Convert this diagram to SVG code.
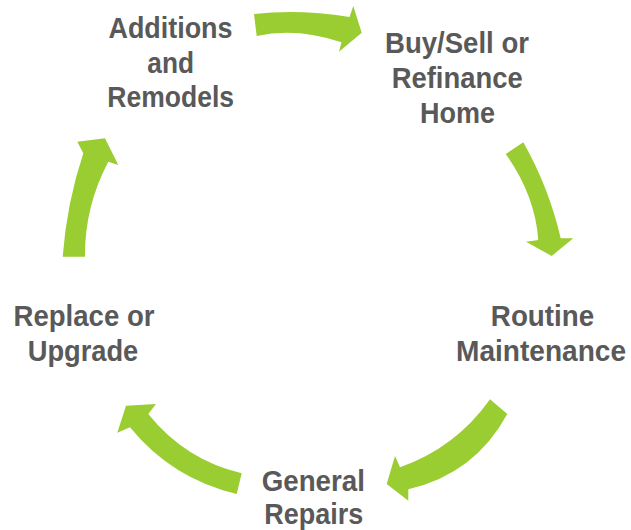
<svg xmlns="http://www.w3.org/2000/svg" width="631" height="530" viewBox="0 0 631 530">
  <style>
    .arrow { fill: #9ACD32; stroke: none; }
    .label { font-family: "Liberation Sans", Arial, sans-serif; font-weight: bold; font-size: 29px; fill: #595959; text-anchor: middle; }
  </style>
  <rect width="631" height="530" fill="#ffffff"/>
  <g id="connectors">
    <path class="arrow" d="M254,14 Q299.5,8.7 349.5,17 L353.3,6 L361.7,32.7 L339,51.7 L341.5,42.3 Q297,27 256.7,36 Z"/>
    <path class="arrow" d="M523.3,142.3 Q549,187.7 560.7,238.3 L573.3,238.3 L551.7,256 L526,241.7 L538.3,240 Q535,195 505.7,154 Z"/>
    <path class="arrow" d="M490,399.3 L507.3,414 Q474.8,473.9 408.3,489.3 L408.3,500.7 L386.7,484 L395,456 L400,467.3 Q455.8,447.7 490,399.3 Z"/>
    <path class="arrow" d="M241.7,473.3 L236.7,494 Q172,478.8 130,427.3 L117.3,432.7 L126,405.7 L156,404 L148.3,414 Q185,459.8 241.7,473.3 Z"/>
    <path class="arrow" d="M62.7,256.7 Q66.6,203.7 83.3,153.3 L77.3,141.7 L105,138.3 L118.3,165 L108.3,161.7 Q84.5,206.8 85,256.7 Z"/>
  </g>
  <g id="node-additions">
    <text class="label" x="170.5" y="37.7" textLength="124" lengthAdjust="spacingAndGlyphs">Additions</text>
    <text class="label" x="170.7" y="72.7" textLength="46.7" lengthAdjust="spacingAndGlyphs">and</text>
    <text class="label" x="170.7" y="106.7" textLength="126.7" lengthAdjust="spacingAndGlyphs">Remodels</text>
  </g>
  <g id="node-buysell">
    <text class="label" x="457" y="53.3" textLength="144" lengthAdjust="spacingAndGlyphs">Buy/Sell or</text>
    <text class="label" x="457.2" y="88.2" textLength="131" lengthAdjust="spacingAndGlyphs">Refinance</text>
    <text class="label" x="457.5" y="122.7" textLength="75" lengthAdjust="spacingAndGlyphs">Home</text>
  </g>
  <g id="node-routine">
    <text class="label" x="542.5" y="326" textLength="103.3" lengthAdjust="spacingAndGlyphs">Routine</text>
    <text class="label" x="541" y="360.7" textLength="170" lengthAdjust="spacingAndGlyphs">Maintenance</text>
  </g>
  <g id="node-general">
    <text class="label" x="313.3" y="491" textLength="103.3" lengthAdjust="spacingAndGlyphs">General</text>
    <text class="label" x="313.8" y="523.5" textLength="99" lengthAdjust="spacingAndGlyphs">Repairs</text>
  </g>
  <g id="node-replace">
    <text class="label" x="84" y="326" textLength="141" lengthAdjust="spacingAndGlyphs">Replace or</text>
    <text class="label" x="83" y="360.7" textLength="110.6" lengthAdjust="spacingAndGlyphs">Upgrade</text>
  </g>
</svg>
